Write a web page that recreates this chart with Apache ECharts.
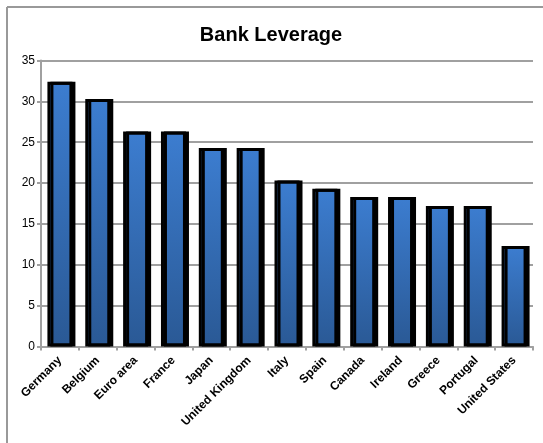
<!DOCTYPE html>
<html><head><meta charset="utf-8">
<script src="https://cdn.jsdelivr.net/npm/echarts@6/dist/echarts.min.js"></script>
<style>html,body{margin:0;padding:0;background:#fff}#c{width:543px;height:443px}</style>
</head><body><div id="c"></div>
<script>
const categories = ["Germany","Belgium","Euro area","France","Japan","United Kingdom","Italy","Spain","Canada","Ireland","Greece","Portugal","United States"];
const leverage = [32.4,30.3,26.3,26.3,24.3,24.3,20.3,19.3,18.3,18.3,17.2,17.2,12.3];
const yTicks = [0,5,10,15,20,25,30,35];

const chart = echarts.init(document.getElementById('c'), null, {renderer:'canvas'});
chart.setOption({
  animation:false,
  backgroundColor:'#fff',
  title:{text:'Bank Leverage',left:266,top:20,textAlign:'center',
    textStyle:{fontFamily:'Liberation Sans, Arial',fontWeight:'bold',fontSize:20,color:'#000'}},
  graphic:[
    {type:'line',shape:{x1:7,y1:7,x2:543,y2:7},style:{stroke:'#999',lineWidth:2}},
    {type:'line',shape:{x1:7,y1:7,x2:7,y2:443},style:{stroke:'#999',lineWidth:2}}
  ],
  grid:{left:41,right:10,top:60.5,bottom:96.5,containLabel:false},
  xAxis:{type:'category',data:categories,boundaryGap:true,
    axisLine:{lineStyle:{color:'#a0a0a0',width:2}},
    axisTick:{show:true,alignWithLabel:false,length:4,lineStyle:{color:'#a0a0a0',width:2}},
    axisLabel:{rotate:45,interval:0,margin:12,fontFamily:'Liberation Sans, Arial',fontWeight:'bold',fontSize:12,color:'#000'}},
  yAxis:{type:'value',min:yTicks[0],max:yTicks[yTicks.length-1],interval:5,
    axisLine:{show:true,lineStyle:{color:'#a0a0a0',width:2}},
    axisTick:{show:true,length:4,lineStyle:{color:'#a0a0a0',width:2}},
    splitLine:{lineStyle:{color:'#a0a0a0',width:2}},
    axisLabel:{margin:6,fontFamily:'Liberation Sans, Arial',fontSize:12,color:'#000'}},
  series:[{type:'bar',data:leverage,barWidth:25,
    itemStyle:{
      color:new echarts.graphic.LinearGradient(0,0,0,1,[{offset:0,color:'#3c7dd0'},{offset:1,color:'#2a5995'}]),
      borderColor:'#000',borderWidth:3,
      shadowColor:'#000',shadowOffsetX:3,shadowOffsetY:0,shadowBlur:0
    }}]
});
</script></body></html>
